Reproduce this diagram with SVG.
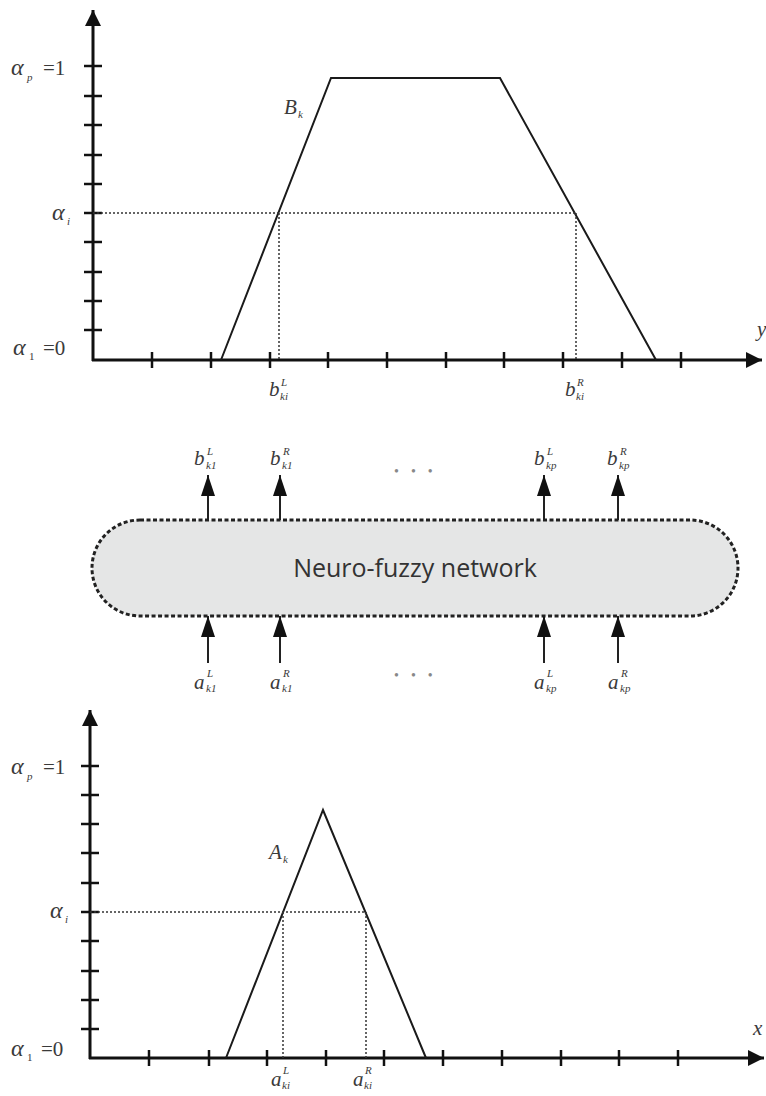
<svg xmlns="http://www.w3.org/2000/svg" width="766" height="1096" viewBox="0 0 766 1096">
  <style>
    .axis { stroke: #111; stroke-width: 3; fill: none; }
    .tick { stroke: #111; stroke-width: 2.5; }
    .curve { stroke: #1a1a1a; stroke-width: 2; fill: none; stroke-linejoin: miter; }
    .guide { stroke: #333; stroke-width: 1.5; stroke-dasharray: 2 2; fill: none; }
    .io { stroke: #222; stroke-width: 2; }
    .m { font-family: "Liberation Serif", "DejaVu Serif", "Times New Roman", serif; font-style: italic; fill: #3a3a3a; }
    .n { font-family: "Liberation Serif", "DejaVu Serif", "Times New Roman", serif; fill: #3a3a3a; }
    .big { font-size: 24px; }
    .mid { font-size: 21px; }
    .sm { font-size: 11px; }
    .dots { font-family: "Liberation Serif", "DejaVu Serif", serif; font-size: 14px; fill: #888; letter-spacing: 12px; }
    .net { font-family: "Open Sans", "Noto Sans", sans-serif; font-size: 25px; fill: #333; }
  </style>
  <defs>
    <marker id="axhead" markerUnits="userSpaceOnUse" markerWidth="18" markerHeight="16" refX="16" refY="8" orient="auto">
      <path d="M0,0 L16,8 L0,16 z" fill="#111"/>
    </marker>
    <marker id="iohead" markerUnits="userSpaceOnUse" markerWidth="22" markerHeight="14" refX="21" refY="7" orient="auto">
      <path d="M0,0 L21,7 L0,14 z" fill="#111"/>
    </marker>
  </defs>

  <!-- upper chart: output membership function B_k -->
  <g id="chart-output">
    <line class="axis" x1="93" y1="361" x2="93" y2="10" marker-end="url(#axhead)"/>
    <line class="axis" x1="92" y1="360" x2="762" y2="360" marker-end="url(#axhead)"/>
    <g class="tick">
      <line x1="84" y1="66" x2="102" y2="66"/>
      <line x1="84" y1="96" x2="102" y2="96"/>
      <line x1="84" y1="125" x2="102" y2="125"/>
      <line x1="84" y1="155" x2="102" y2="155"/>
      <line x1="84" y1="184" x2="102" y2="184"/>
      <line x1="84" y1="213" x2="102" y2="213"/>
      <line x1="84" y1="242" x2="102" y2="242"/>
      <line x1="84" y1="272" x2="102" y2="272"/>
      <line x1="84" y1="301" x2="102" y2="301"/>
      <line x1="84" y1="330" x2="102" y2="330"/>
      <line x1="152" y1="352" x2="152" y2="368"/>
      <line x1="211" y1="352" x2="211" y2="368"/>
      <line x1="270" y1="352" x2="270" y2="368"/>
      <line x1="328" y1="352" x2="328" y2="368"/>
      <line x1="387" y1="352" x2="387" y2="368"/>
      <line x1="446" y1="352" x2="446" y2="368"/>
      <line x1="504" y1="352" x2="504" y2="368"/>
      <line x1="563" y1="352" x2="563" y2="368"/>
      <line x1="622" y1="352" x2="622" y2="368"/>
      <line x1="681" y1="352" x2="681" y2="368"/>
    </g>
    <polyline class="curve" points="221,360 331,78 500,78 656,360"/>
    <path class="guide" d="M93,213 H576 M279,213 V360 M576,213 V360"/>

    <text class="m big" x="11" y="75">α</text><text class="m sm" x="27" y="81">p</text>
    <text class="n mid" x="43" y="75">=1</text>
    <text class="m big" x="52" y="220">α</text><text class="m sm" x="67" y="225">i</text>
    <text class="m big" x="13" y="355">α</text><text class="n sm" x="29" y="360">1</text>
    <text class="n mid" x="43" y="355">=0</text>
    <text class="m mid" x="284" y="114">B</text><text class="m sm" x="298" y="118">k</text>
    <text class="m mid" x="757" y="336">y</text>
    <text class="m mid" x="269" y="396">b</text><text class="m sm" x="281" y="386">L</text><text class="m sm" x="280" y="400">ki</text>
    <text class="m mid" x="565" y="396">b</text><text class="m sm" x="577" y="386">R</text><text class="m sm" x="576" y="400">ki</text>
  </g>

  <!-- network block -->
  <g id="network">
    <rect x="92" y="520" width="646" height="96" rx="48" ry="48" fill="#e5e6e6" stroke="#222" stroke-width="3" stroke-dasharray="4 2.5"/>
    <text class="net" x="415" y="577" text-anchor="middle">Neuro-fuzzy network</text>
  </g>

  <!-- network outputs and inputs -->
  <g id="connectors">
    <line class="io" x1="208" y1="520" x2="208" y2="475" marker-end="url(#iohead)"/>
    <line class="io" x1="280" y1="520" x2="280" y2="475" marker-end="url(#iohead)"/>
    <line class="io" x1="544" y1="520" x2="544" y2="475" marker-end="url(#iohead)"/>
    <line class="io" x1="618" y1="520" x2="618" y2="475" marker-end="url(#iohead)"/>
    <line class="io" x1="208" y1="663" x2="208" y2="616" marker-end="url(#iohead)"/>
    <line class="io" x1="280" y1="663" x2="280" y2="616" marker-end="url(#iohead)"/>
    <line class="io" x1="544" y1="663" x2="544" y2="616" marker-end="url(#iohead)"/>
    <line class="io" x1="618" y1="663" x2="618" y2="616" marker-end="url(#iohead)"/>
  </g>

  <g id="output-labels">
    <text class="m mid" x="194" y="465">b</text><text class="m sm" x="207" y="455">L</text><text class="m sm" x="206" y="469">k1</text>
    <text class="m mid" x="270" y="465">b</text><text class="m sm" x="283" y="455">R</text><text class="m sm" x="282" y="469">k1</text>
    <text class="dots" x="394" y="476">•••</text>
    <text class="m mid" x="534" y="465">b</text><text class="m sm" x="547" y="455">L</text><text class="m sm" x="546" y="469">kp</text>
    <text class="m mid" x="607" y="465">b</text><text class="m sm" x="620" y="455">R</text><text class="m sm" x="619" y="469">kp</text>
  </g>

  <g id="input-labels">
    <text class="m mid" x="194" y="689">a</text><text class="m sm" x="207" y="677">L</text><text class="m sm" x="206" y="692">k1</text>
    <text class="m mid" x="270" y="689">a</text><text class="m sm" x="283" y="677">R</text><text class="m sm" x="282" y="692">k1</text>
    <text class="dots" x="394" y="680">•••</text>
    <text class="m mid" x="534" y="689">a</text><text class="m sm" x="547" y="677">L</text><text class="m sm" x="546" y="692">kp</text>
    <text class="m mid" x="608" y="689">a</text><text class="m sm" x="621" y="677">R</text><text class="m sm" x="620" y="692">kp</text>
  </g>

  <!-- lower chart: input membership function A_k -->
  <g id="chart-input">
    <line class="axis" x1="90" y1="1059" x2="90" y2="710" marker-end="url(#axhead)"/>
    <line class="axis" x1="89" y1="1058" x2="764" y2="1058" marker-end="url(#axhead)"/>
    <g class="tick">
      <line x1="81" y1="766" x2="99" y2="766"/>
      <line x1="81" y1="795" x2="99" y2="795"/>
      <line x1="81" y1="824" x2="99" y2="824"/>
      <line x1="81" y1="853" x2="99" y2="853"/>
      <line x1="81" y1="883" x2="99" y2="883"/>
      <line x1="81" y1="912" x2="99" y2="912"/>
      <line x1="81" y1="941" x2="99" y2="941"/>
      <line x1="81" y1="971" x2="99" y2="971"/>
      <line x1="81" y1="1000" x2="99" y2="1000"/>
      <line x1="81" y1="1029" x2="99" y2="1029"/>
      <line x1="149" y1="1050" x2="149" y2="1066"/>
      <line x1="209" y1="1050" x2="209" y2="1066"/>
      <line x1="267" y1="1050" x2="267" y2="1066"/>
      <line x1="326" y1="1050" x2="326" y2="1066"/>
      <line x1="384" y1="1050" x2="384" y2="1066"/>
      <line x1="443" y1="1050" x2="443" y2="1066"/>
      <line x1="502" y1="1050" x2="502" y2="1066"/>
      <line x1="561" y1="1050" x2="561" y2="1066"/>
      <line x1="619" y1="1050" x2="619" y2="1066"/>
      <line x1="678" y1="1050" x2="678" y2="1066"/>
    </g>
    <polyline class="curve" points="226,1058 323,810 426,1058"/>
    <path class="guide" d="M90,912 H366 M283,912 V1058 M366,912 V1058"/>

    <text class="m big" x="11" y="774">α</text><text class="m sm" x="27" y="780">p</text>
    <text class="n mid" x="43" y="774">=1</text>
    <text class="m big" x="50" y="918">α</text><text class="m sm" x="65" y="923">i</text>
    <text class="m big" x="11" y="1056">α</text><text class="n sm" x="27" y="1061">1</text>
    <text class="n mid" x="41" y="1056">=0</text>
    <text class="m mid" x="269" y="859">A</text><text class="m sm" x="283" y="863">k</text>
    <text class="m mid" x="753" y="1035">x</text>
    <text class="m mid" x="271" y="1086">a</text><text class="m sm" x="283" y="1074">L</text><text class="m sm" x="282" y="1089">ki</text>
    <text class="m mid" x="353" y="1086">a</text><text class="m sm" x="365" y="1074">R</text><text class="m sm" x="364" y="1089">ki</text>
  </g>
</svg>
